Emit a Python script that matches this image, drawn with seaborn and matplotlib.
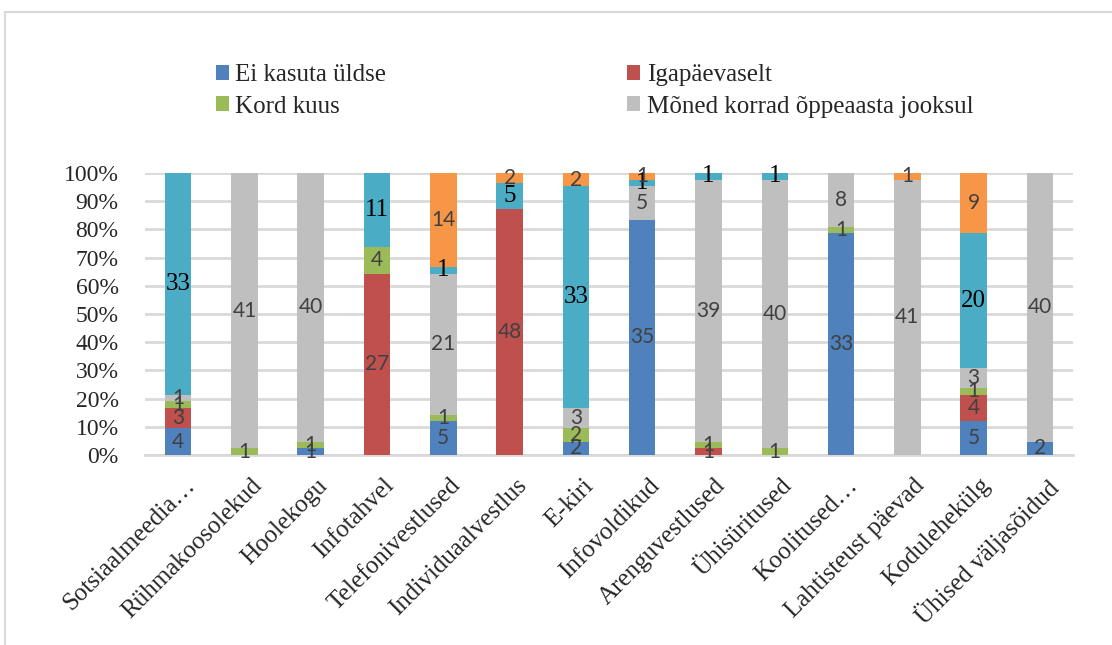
import numpy as np
import pandas as pd
import matplotlib
matplotlib.use("Agg")
import matplotlib.pyplot as plt
import matplotlib.transforms as mtransforms
from matplotlib.patches import Patch, Rectangle
import seaborn as sns

# ---------------------------------------------------------------
# Andmed (loetud jooniselt)
# ---------------------------------------------------------------
kategooriad = ["Sotsiaalmeedia…", "Rühmakoosolekud", "Hoolekogu", "Infotahvel",
               "Telefonivestlused", "Individuaalvestlus", "E-kiri", "Infovoldikud",
               "Arenguvestlused", "Ühisüritused", "Koolitused…", "Lahtisteust päevad",
               "Kodulehekülg", "Ühised väljasõidud"]

ei_kasuta = [4, 0, 1, 0, 5, 0, 2, 35, 0, 0, 33, 0, 5, 2]
igapaevaselt = [3, 0, 0, 27, 0, 48, 0, 0, 1, 0, 0, 0, 4, 0]
kord_kuus = [1, 1, 1, 4, 1, 0, 2, 0, 1, 1, 1, 0, 1, 0]
moned_korrad = [1, 41, 40, 0, 21, 0, 3, 5, 39, 40, 8, 41, 3, 40]
kord_nadalas = [33, 0, 0, 11, 1, 5, 33, 1, 1, 1, 0, 0, 20, 0]
muu = [0, 0, 0, 0, 14, 2, 2, 1, 0, 0, 0, 1, 9, 0]

seeriad = ["Ei kasuta üldse", "Igapäevaselt", "Kord kuus",
           "Mõned korrad õppeaasta jooksul", "Kord nädalas", "Muu"]
varvid = ["#4F81BD", "#C0504D", "#9BBB59", "#BFBFBF", "#4BACC6", "#F79646"]

df = pd.DataFrame({
    seeriad[0]: ei_kasuta,
    seeriad[1]: igapaevaselt,
    seeriad[2]: kord_kuus,
    seeriad[3]: moned_korrad,
    seeriad[4]: kord_nadalas,
    seeriad[5]: muu,
}, index=kategooriad)

pct = df.div(df.sum(axis=1), axis=0) * 100
kum = pct.cumsum(axis=1)

# ---------------------------------------------------------------
# Joonis
# ---------------------------------------------------------------
sns.set_style("white")
plt.rcParams["font.family"] = ["Liberation Serif", "DejaVu Serif"]

fig = plt.figure(figsize=(11.12, 6.45), dpi=100)
ax = fig.add_axes([0.1304, 0.2946, 0.8346, 0.4372])

# kuhjatud tulbad: kõige pikem (kumulatiivne) enne, lühemad peale
for i in range(len(seeriad) - 1, -1, -1):
    sns.barplot(x=kategooriad, y=kum[seeriad[i]].values, color=varvid[i],
                width=0.4, saturation=1, ax=ax, zorder=3, linewidth=0)

# andmesildid
for j, kat in enumerate(kategooriad):
    alus = 0
    for i, s in enumerate(seeriad):
        v = df.loc[kat, s]
        h = pct.loc[kat, s]
        if v > 0:
            if s == "Kord nädalas":
                ax.text(j, alus + h / 2, str(v), ha="center", va="center",
                        fontsize=18, color="black", family="Liberation Serif", zorder=5)
            else:
                ax.text(j, alus + h / 2, str(v), ha="center", va="center",
                        fontsize=15, color="#404040", family="Lato", zorder=5)
        alus += h

ax.set_ylim(0, 100)
ax.set_xlim(-0.5, len(kategooriad) - 0.5)
ax.set_yticks(np.arange(0, 101, 10))
ax.set_yticklabels([f"{t}%" for t in range(0, 101, 10)], fontsize=17)
ax.yaxis.grid(True, color="#D9D9D9", linewidth=2, zorder=0)
ax.set_axisbelow(True)
ax.tick_params(axis="y", length=0, pad=19)
ax.tick_params(axis="x", length=0, pad=14)
ax.set_xticks(range(len(kategooriad)))
ax.set_xticklabels(kategooriad, rotation=45, ha="right", rotation_mode="anchor",
                   fontsize=18)
nihe = mtransforms.ScaledTranslation(6 / 100, 0, fig.dpi_scale_trans)
for lbl in ax.get_xticklabels():
    lbl.set_transform(lbl.get_transform() + nihe)
for sp in ["left", "right", "top"]:
    ax.spines[sp].set_visible(False)
ax.spines["bottom"].set_color("#D9D9D9")
ax.spines["bottom"].set_linewidth(2)
ax.set_xlabel("")
ax.set_ylabel("")

# legend (ainult neli kirjet nagu originaalis), ridade kaupa
kasitsed = [Patch(facecolor=varvid[i], edgecolor="none", label=seeriad[i]) for i in [0, 2, 1, 3]]
fig.legend(handles=kasitsed, loc="upper left", bbox_to_anchor=(0.183, 0.92), ncol=2,
           frameon=False, fontsize=18, handlelength=0.52, handleheight=0.52,
           handletextpad=0.25, columnspacing=9.65, labelspacing=0.38, borderpad=0)

# diagrammiala raam
fig.patches.append(Rectangle((0.0045, -0.05), 1.1, 1.031, transform=fig.transFigure,
                             fill=False, edgecolor="#D9D9D9", linewidth=1.5))

fig.savefig("out.png", dpi=100)
